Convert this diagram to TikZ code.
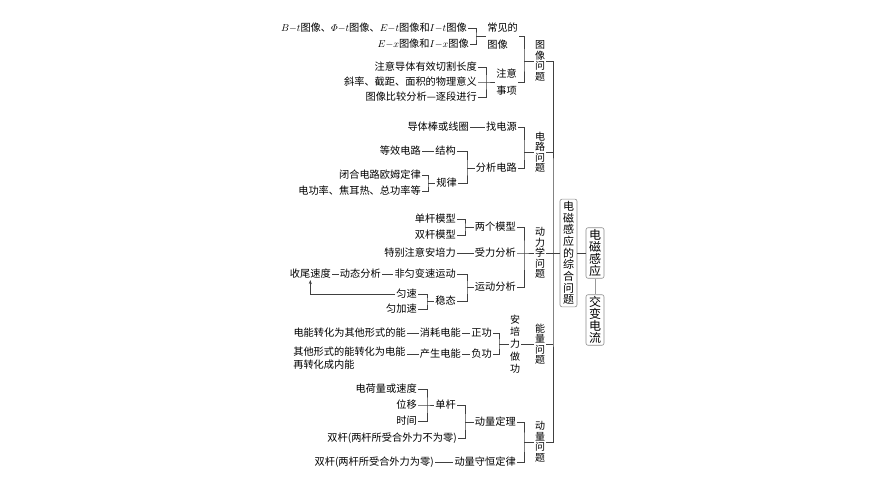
\documentclass[tikz,border=0pt]{standalone}
\usepackage{fontspec}
\usepackage{amsmath}
\setmainfont{Noto Sans CJK SC}
\usetikzlibrary{arrows.meta}

\def\bx{524}
\def\sx{553}
\tikzset{leaf/.style={inner sep=1pt,anchor=east,font=\fontsize{10.2}{16}\selectfont},
    twol/.style={inner sep=1pt,anchor=west,align=left,font=\fontsize{10.2}{17}\selectfont},
    vlab/.style={inner sep=1pt,align=center,font=\fontsize{10}{10.5}\selectfont},
    box/.style={draw=black!45,rounded corners=2pt,inner xsep=3pt,inner ysep=2pt,align=center,
      font=\fontsize{11}{11.7}\selectfont},
    bigbox/.style={box,font=\fontsize{12}{11.8}\selectfont}}

\begin{document}
\begin{tikzpicture}[x=1pt,y=-1pt,line width=.6pt,draw=black!75]
    \useasboundingbox (0,0) rectangle (870,489);
    % image problems
    \node[leaf] (bt) at (468,28) {$B{-}t$图像、$\varPhi{-}t$图像、$E{-}t$图像和$I{-}t$图像};
    \node[leaf] (ex) at (470,44) {$E{-}x$图像和$I{-}x$图像};
    \coordinate (j1) at (476,36);
    \node[twol] (cj) at (486,36) {常见的\\图像};
    \node[leaf] (z1) at (478,67) {注意导体有效切割长度};
    \node[leaf] (z2) at (478,82) {斜率、截距、面积的物理意义};
    \node[leaf] (z3) at (478,97) {图像比较分析—逐段进行};
    \coordinate (j2) at (486,82);
    \node[twol] (zy) at (495,82) {注意\\事项};
    \coordinate (j3) at (\bx,61);
    \node[vlab] (tx) at (540,61) {图\\像\\问\\题};
    \draw (bt.east) -| (j1) |- (ex.east);
    \draw (j1) -- (cj.west);
    \draw (z1.east) -| (j2) |- (z3.east);
    \draw (z2.east) -- (j2) -- (zy.west);
    \draw (cj.east) -| (j3) |- (zy.east);
    \draw (j3) -- (tx.west);
    % circuit problems
    \node[leaf] (dt) at (470,127) {导体棒或线圈};
    \node[leaf] (zd) at (518,127) {找电源};
    \node[leaf] (dx) at (422,151) {等效电路};
    \node[leaf] (jg) at (457,151) {结构};
    \node[leaf] (bh) at (422,175) {闭合电路欧姆定律};
    \node[leaf] (dg) at (422,191) {电功率、焦耳热、总功率等};
    \coordinate (j4) at (428,183);
    \node[leaf] (gl) at (458,183) {规律};
    \coordinate (j5) at (467,168);
    \node[leaf] (fx) at (518,168) {分析电路};
    \coordinate (j6) at (\bx,152);
    \node[vlab] (dl) at (540,152) {电\\路\\问\\题};
    \draw (dt.east) -- (zd.west);
    \draw (dx.east) -- (jg.west);
    \draw (bh.east) -| (j4) |- (dg.east);
    \draw (j4) -- (gl.west);
    \draw (jg.east) -| (j5) |- (gl.east);
    \draw (j5) -- (fx.west);
    \draw (zd.east) -| (j6) |- (fx.east);
    \draw (j6) -- (dl.west);
    % dynamics problems
    \node[leaf] (dgm) at (457,219) {单杆模型};
    \node[leaf] (sgm) at (457,235) {双杆模型};
    \coordinate (j7) at (465,227);
    \node[leaf] (lm) at (517,227) {两个模型};
    \node[leaf] (tb) at (457,253) {特别注意安培力};
    \node[leaf] (sl) at (517,253) {受力分析};
    \node[leaf] (sw) at (332,274) {收尾速度};
    \node[leaf] (dtf) at (382,274) {动态分析};
    \node[leaf] (fy) at (457,274) {非匀变速运动};
    \node[leaf] (ys) at (418,294) {匀速};
    \node[leaf] (yj) at (418,309) {匀加速};
    \coordinate (j8) at (427,301);
    \node[leaf] (wt) at (457,301) {稳态};
    \coordinate (j9) at (467,287);
    \node[leaf] (yf) at (517,287) {运动分析};
    \coordinate (j10) at (\bx,253);
    \node[vlab] (dlx) at (540,253) {动\\力\\学\\问\\题};
    \draw (dgm.east) -| (j7) |- (sgm.east);
    \draw (j7) -- (lm.west);
    \draw (tb.east) -- (sl.west);
    \draw (sw.east) -- (dtf.west);
    \draw (dtf.east) -- (fy.west);
    \draw (ys.east) -| (j8) |- (yj.east);
    \draw (j8) -- (wt.west);
    \draw (fy.east) -| (j9) |- (wt.east);
    \draw (j9) -- (yf.west);
    \draw (lm.east) -| (j10) |- (yf.east);
    \draw (sl.east) -- (j10) -- (dlx.west);
    \draw[-{Stealth[length=4pt,width=3pt]}] (ys.west) -| (sw.south);
    % energy problems
    \node[leaf] (dn) at (407,333) {电能转化为其他形式的能};
    \node[leaf] (xh) at (462,333) {消耗电能};
    \node[leaf] (zg) at (493,333) {正功};
    \node[twol,font=\fontsize{10.2}{13.5}\selectfont] (qt) at (292,358) {其他形式的能转化为电能\\再转化成内能};
    \node[leaf] (cs) at (462,354) {产生电能};
    \node[leaf] (fg) at (493,354) {负功};
    \coordinate (j11) at (499,344);
    \node[vlab,font=\fontsize{10}{12.3}\selectfont] (ap) at (515,344) {安\\培\\力\\做\\功};
    \node[vlab] (nl) at (540,344) {能\\量\\问\\题};
    \draw (dn.east) -- (xh.west);
    \draw (xh.east) -- (zg.west);
    \draw (cs.west) -- (cs.west -| qt.east);
    \draw (cs.east) -- (fg.west);
    \draw (zg.east) -| (j11) |- (fg.east);
    \draw (j11) -- (ap.west);
    \draw (ap.east) -- (nl.west);
    % momentum problems
    \node[leaf] (dh) at (418,389) {电荷量或速度};
    \node[leaf] (wy) at (418,405) {位移};
    \node[leaf] (sj) at (418,421) {时间};
    \coordinate (j12) at (427,405);
    \node[leaf] (dgd) at (457,405) {单杆};
    \node[leaf] (sb) at (458,438) {双杆(两杆所受合外力不为零)};
    \coordinate (j13) at (465,422);
    \node[leaf] (dld) at (517,422) {动量定理};
    \node[leaf] (sz) at (435,462) {双杆(两杆所受合外力为零)};
    \node[leaf] (sh) at (517,462) {动量守恒定律};
    \coordinate (j14) at (\bx,442);
    \node[vlab] (dlw) at (540,442) {动\\量\\问\\题};
    \draw (dh.east) -| (j12) |- (sj.east);
    \draw (wy.east) -- (j12) -- (dgd.west);
    \draw (dgd.east) -| (j13) |- (sb.east);
    \draw (j13) -- (dld.west);
    \draw (sz.east) -- (sh.west);
    \draw (dld.east) -| (j14) |- (sh.east);
    \draw (j14) -- (dlw.west);
    % spine and boxes
    \coordinate (sp) at (\sx,253);
    \draw (tx.east) -| (sp) |- (dlw.east);
    \foreach \n in {dl,dlx,nl}
      \draw (\n.east) -- (\n.east -| sp);
    \node[box] (zh) at (568.5,253) {电\\磁\\感\\应\\的\\综\\合\\问\\题};
    \node[bigbox] (dc) at (595,253) {电\\磁\\感\\应};
    \node[bigbox] (jb) at (595,320) {交\\变\\电\\流};
    \draw (sp) -- (zh.west);
    \draw (zh.east) -- (dc.west);
    \draw[draw=black!40] (dc.south) -- (jb.north);
\end{tikzpicture}
\end{document}
